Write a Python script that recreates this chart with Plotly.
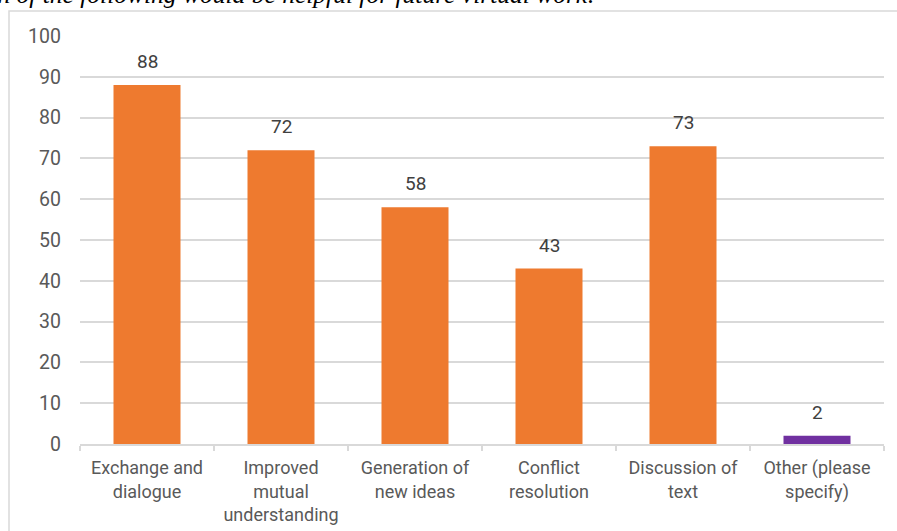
import plotly.graph_objects as go

categories = ["Exchange and<br>dialogue", "Improved<br>mutual<br>understanding", "Generation of<br>new ideas",
              "Conflict<br>resolution", "Discussion of<br>text", "Other (please<br>specify)"]
values = [88, 72, 58, 43, 73, 2]
bar_colors = ["#EE7A2F", "#EE7A2F", "#EE7A2F", "#EE7A2F", "#EE7A2F", "#7030A0"]
y_ticks = [0, 10, 20, 30, 40, 50, 60, 70, 80, 90, 100]
title_text = "Which of the following would be helpful for future virtual work:"

L, R, T, B = 80, 13, 36, 87
W, H = 897, 531
pw, ph = W - L - R, H - T - B

def px(x):
    return (x - L) / pw

def py(y):
    return (H - B - y) / ph

fig = go.Figure()
fig.add_trace(go.Bar(x=categories, y=values, marker=dict(color=bar_colors, line=dict(width=0)),
                     hoverinfo="skip"))

for c, v in zip(categories, values):
    fig.add_annotation(x=c, y=v, text=str(v), showarrow=False, yanchor="bottom", yshift=10,
                       font=dict(family="Roboto", size=19, color="#404040"))

fig.add_annotation(xref="paper", yref="paper", x=px(598), y=py(11), xanchor="right", yanchor="bottom",
                   text=f"<i>{title_text}</i>", showarrow=False,
                   font=dict(family="Liberation Serif", size=25.5, color="#000000"))

fig.add_shape(type="rect", xref="paper", yref="paper", x0=px(9), y0=py(560), x1=px(920), y1=py(11),
              line=dict(color="#D9D9D9", width=1.5), layer="below")

fig.update_layout(
    width=W, height=H,
    margin=dict(l=L, r=R, t=T, b=B, autoexpand=False),
    paper_bgcolor="white", plot_bgcolor="white",
    bargap=0.5, showlegend=False,
    font=dict(family="Roboto", color="#595959"),
    xaxis=dict(showgrid=False, showline=True, linecolor="#D9D9D9", linewidth=1.5, automargin=False,
               ticks="outside", tickson="boundaries", ticklen=5, tickcolor="#D9D9D9", tickwidth=1.5,
               ticklabelstandoff=7,
               tickfont=dict(family="Roboto", size=18, color="#595959")),
    yaxis=dict(range=[0, 100], tickvals=y_ticks, showgrid=True, gridcolor="#D9D9D9", gridwidth=1.5,
               zeroline=False, ticks="", ticklabelstandoff=18, automargin=False,
               tickfont=dict(family="Roboto", size=19.5, color="#595959")),
)

fig.write_html("out.html")
